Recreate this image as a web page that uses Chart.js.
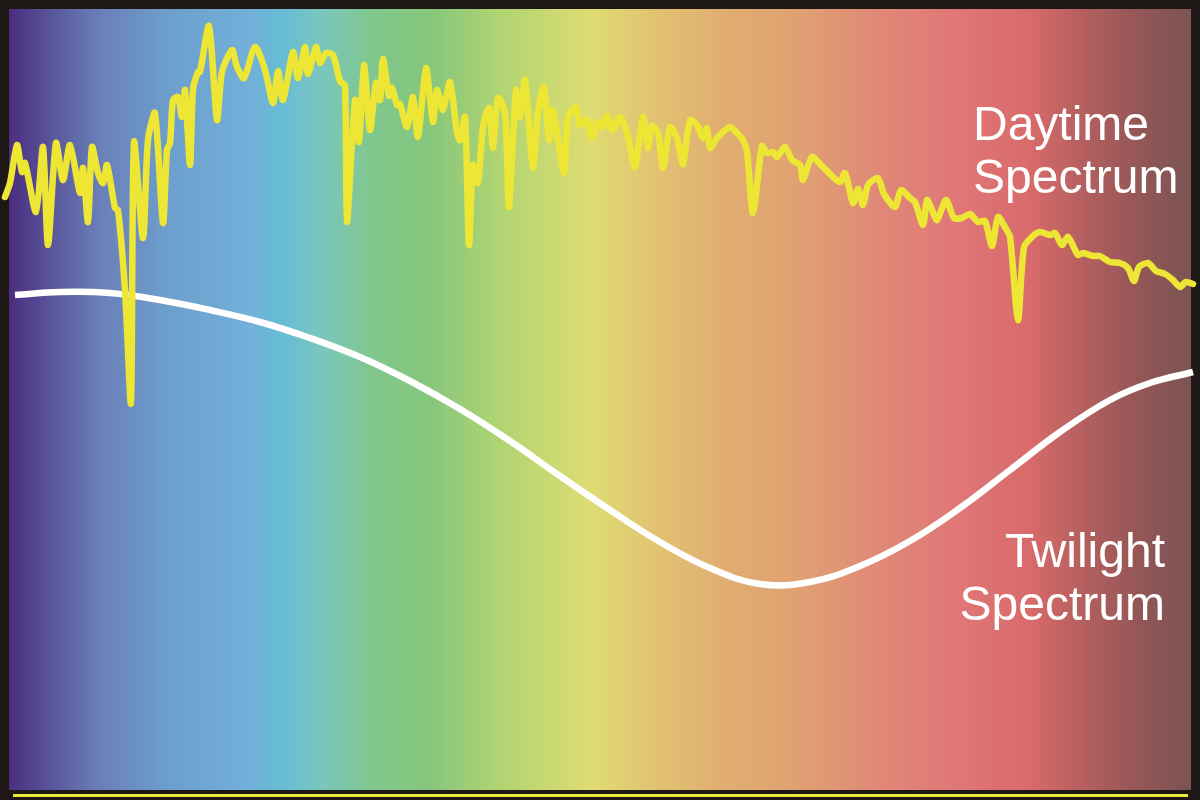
<!DOCTYPE html>
<html>
<head>
<meta charset="utf-8">
<script src="https://cdn.jsdelivr.net/npm/chart.js@4"></script>
<style>
  html, body { margin: 0; padding: 0; background: #1d1715; }
  #wrap { width: 1200px; height: 800px; position: relative; }
</style>
</head>
<body>
<div id="wrap"><canvas id="c" width="1200" height="800"></canvas></div>
<script>
// Wavelength (nm) of the daytime spectrum samples
const dayWavelength = [
  401.25, 402.5, 404.25, 405.5, 406.25, 409, 410.75, 412, 414, 415.75,
  417.5, 420, 420.75, 422, 423, 424.5, 425.75, 426.75, 428.75, 429.5,
  431.25, 432.75, 433.5, 435.75, 437, 438.75, 440.75, 441.75, 442.5, 443.25,
  444.5, 445.5, 446.25, 447.5, 448.25, 449.5, 450, 452.25, 454.25, 455.5,
  458, 459.25, 461, 463.75, 466.25, 468.25, 469.5, 470.75, 473.25, 474.5,
  476.25, 477, 479, 480, 481.5, 483.25, 485, 486.25, 486.75, 488.75,
  489.75, 491, 492.5, 494, 495, 495.75, 497.25, 498, 499.25, 500,
  501.75, 503.25, 504.5, 506.5, 508.25, 509.25, 510.75, 512.5, 514.25, 515,
  516.25, 517.25, 518.25, 519.5, 520.75, 522.25, 523.25, 524.5, 526.25, 527.25,
  529, 530, 531.25, 533.25, 534.5, 536, 537.25, 538.25, 541, 542,
  544, 545, 546.75, 548, 549.25, 550.75, 551.75, 553.25, 555, 556.75,
  558.75, 560.75, 562, 563, 564.5, 565.75, 567.5, 569.25, 570.75, 572.5,
  574.25, 575.75, 576.75, 577.5, 579.25, 582.5, 584.25, 585.75, 586.75, 588.25,
  590.5, 591.75, 593.25, 594.25, 596.25, 598, 600, 600.75, 603, 605.5,
  608.25, 610, 611.25, 613.25, 614.5, 615.75, 617, 619.5, 621, 623.75,
  625.25, 627.5, 628.75, 630.75, 631.75, 633, 634.25, 636.5, 638.5, 640.5,
  642.5, 644.5, 646.25, 648, 649.5, 651.25, 652.5, 654.5, 656, 658.25,
  660, 662.5, 663.75, 665.5, 667, 669.5, 670.75, 673.25, 675, 677.5,
  680, 682, 683.5, 684.75, 687, 689, 691.25, 693.25, 695, 696.5, 698.25
];
// Relative intensity of the daytime spectrum
const dayIntensity = [
  60.3, 61.7, 65.5, 62.8, 63.7, 58.8, 65.3, 55.5, 65.7, 62.0,
  65.5, 60.7, 63.2, 57.8, 65.3, 62.7, 61.7, 63.5, 59.2, 59.0,
  51.0, 39.7, 65.8, 56.2, 66.0, 68.7, 57.7, 65.0, 65.7, 70.0,
  70.3, 68.3, 71.0, 63.5, 71.0, 72.8, 72.8, 77.4, 68.0, 72.8,
  75.0, 73.3, 72.2, 75.3, 73.0, 69.7, 72.9, 70.0, 74.8, 72.2,
  75.3, 72.6, 75.3, 73.7, 74.7, 74.5, 71.9, 71.4, 57.8, 70.0,
  65.8, 73.5, 67.0, 71.7, 70.0, 74.1, 70.4, 71.2, 69.5, 69.6,
  67.3, 70.3, 66.3, 73.2, 67.8, 71.0, 69.0, 71.8, 66.7, 66.0,
  68.3, 55.5, 63.5, 61.7, 67.3, 69.2, 65.2, 70.2, 68.8, 59.3,
  71.0, 68.3, 72.0, 63.2, 68.8, 71.3, 66.0, 69.0, 62.7, 68.2,
  69.3, 67.5, 68.0, 66.2, 67.8, 67.3, 68.4, 67.0, 68.3, 66.7,
  63.3, 68.3, 65.2, 67.4, 66.7, 63.2, 67.3, 66.2, 63.6, 68.0,
  67.5, 66.2, 67.2, 65.2, 66.2, 67.3, 66.7, 66.0, 64.8, 58.7,
  65.4, 64.7, 64.8, 64.3, 65.3, 64.0, 63.5, 62.0, 64.3, 63.4,
  62.3, 61.8, 62.7, 59.7, 61.1, 59.5, 61.5, 62.2, 60.6, 59.3,
  61.0, 60.2, 59.8, 57.5, 60.0, 59.0, 58.0, 60.0, 58.2, 58.2,
  58.6, 57.8, 57.9, 55.4, 58.3, 57.3, 56.3, 48.0, 55.3, 56.4,
  56.8, 56.5, 56.7, 55.5, 56.3, 54.5, 54.7, 54.4, 54.4, 53.8,
  53.7, 53.2, 51.9, 53.3, 53.7, 52.9, 52.6, 52.0, 51.3, 51.8, 51.6
];
// Twilight spectrum samples
const twilightWavelength = [
  403.75, 415, 427.5, 440, 452.5, 465, 477.5, 490, 502.5, 515,
  527.5, 540, 552.5, 565, 577.5, 590, 602.5, 615, 627.5, 640,
  652.5, 665, 677.5, 687.5, 698.25
];
const twilightIntensity = [
  50.5, 50.8, 50.7, 50.0, 49.0, 47.8, 46.2, 44.3, 41.9, 39.1,
  35.9, 32.4, 29.0, 25.8, 23.2, 21.6, 21.8, 23.4, 25.9, 29.2,
  33.0, 36.8, 40.0, 41.7, 42.8
];
// Label texts and where they sit (wavelength, intensity at baseline)
const labelLines = ["Daytime", "Spectrum", "Twilight", "Spectrum"];
const labelWavelength = [643.25, 643.25, 691.25, 691.25];
const labelIntensity = [66.0, 60.7, 23.3, 18.0];
const labelAlign = ["left", "left", "right", "right"];

const toPoints = (xs, ys) => xs.map((x, i) => ({ x: x, y: ys[i] }));

const spectrumBackground = {
  id: 'spectrumBackground',
  beforeDraw(chart) {
    const ctx = chart.ctx;
    ctx.save();
    ctx.fillStyle = '#1d1715';
    ctx.fillRect(0, 0, chart.width, chart.height);
    const L = 9, T = 9, R = 1191, B = 790;
    const g = ctx.createLinearGradient(L, 0, R, 0);
    const stops = [
      [0.000, '#4b2e7e'], [0.035, '#58559b'], [0.077, '#6a7fb8'], [0.136, '#6c9fcc'],
      [0.204, '#72b0d9'], [0.229, '#66bbd5'], [0.263, '#7ac6bf'], [0.305, '#80c78f'],
      [0.356, '#86c67c'], [0.415, '#b0d472'], [0.492, '#dedc72'], [0.543, '#e2c472'],
      [0.602, '#e0ae70'], [0.670, '#e0a072'], [0.737, '#e08878'], [0.805, '#e07676'],
      [0.864, '#d86a6a'], [0.915, '#b05e5e'], [0.957, '#945656'], [1.000, '#7a5454']
    ];
    stops.forEach(s => g.addColorStop(s[0], s[1]));
    ctx.fillStyle = g;
    ctx.fillRect(L, T, R - L, B - T);
    ctx.fillStyle = '#ede63c';
    ctx.fillRect(13, 794, 1175, 3);
    ctx.restore();
  },
  afterDatasetsDraw(chart) {
    const ctx = chart.ctx;
    const xs = chart.scales.x, ys = chart.scales.y;
    ctx.save();
    ctx.fillStyle = '#ffffff';
    ctx.font = '48px "Liberation Sans", Arial, sans-serif';
    ctx.textBaseline = 'alphabetic';
    labelLines.forEach((t, i) => {
      ctx.textAlign = labelAlign[i];
      ctx.fillText(t, xs.getPixelForValue(labelWavelength[i]), ys.getPixelForValue(labelIntensity[i]));
    });
    ctx.restore();
  }
};

new Chart(document.getElementById('c'), {
  type: 'line',
  data: {
    datasets: [
      {
        label: 'Daytime Spectrum',
        data: toPoints(dayWavelength, dayIntensity),
        borderColor: '#ede635',
        borderWidth: 6.5,
        tension: 0.25,
        pointRadius: 0,
        borderJoinStyle: 'round',
        borderCapStyle: 'round',
        fill: false,
        clip: false
      },
      {
        label: 'Twilight Spectrum',
        data: toPoints(twilightWavelength, twilightIntensity),
        borderColor: '#ffffff',
        borderWidth: 6.5,
        tension: 0.4,
        pointRadius: 0,
        fill: false,
        clip: false
      }
    ]
  },
  options: {
    responsive: false,
    devicePixelRatio: 1,
    animation: false,
    layout: { padding: 0 },
    plugins: { legend: { display: false }, tooltip: { enabled: false }, title: { display: false } },
    scales: {
      x: { type: 'linear', min: 400, max: 700, display: false },
      y: { type: 'linear', min: 0, max: 80, display: false }
    }
  },
  plugins: [spectrumBackground]
});
</script>
</body>
</html>
